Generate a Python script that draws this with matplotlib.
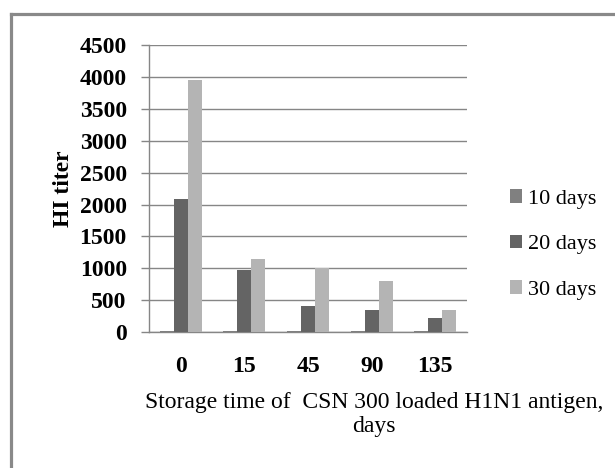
import numpy as np
import matplotlib
matplotlib.use('Agg')
import matplotlib.pyplot as plt
from matplotlib.lines import Line2D

plt.rcParams['font.family'] = ['Liberation Serif', 'DejaVu Serif']

storage_days = ['0', '15', '45', '90', '135']
series_names = ['10 days', '20 days', '30 days']
titer_10d = [15, 15, 15, 15, 15]
titer_20d = [2080, 975, 410, 350, 225]
titer_30d = [3960, 1150, 1005, 805, 350]
series_values = [titer_10d, titer_20d, titer_30d]
series_colors = ['#808080', '#646464', '#b4b4b4']

fig = plt.figure(figsize=(6.15, 4.68), dpi=100)
ax = fig.add_axes([0.2423, 0.2906, 0.5171, 0.6126])

x = np.arange(len(storage_days))
w = 0.22
bars = []
for i, (name, vals, col) in enumerate(zip(series_names, series_values, series_colors)):
    b = ax.bar(x + (i - 1) * w, vals, width=w, color=col, label=name, zorder=3)
    bars.append(b)

ax.set_xlim(-0.5, len(storage_days) - 0.5)
ax.set_ylim(0, 4500)
ax.set_yticks(np.arange(0, 4501, 500))
ax.set_xticks(x)
ax.set_xticklabels(storage_days)

ax.grid(axis='y', color='#868686', linewidth=1.0, zorder=0)
for s in ['top', 'right']:
    ax.spines[s].set_visible(False)
for s in ['left', 'bottom']:
    ax.spines[s].set_color('#868686')
    ax.spines[s].set_linewidth(1.0)

ax.tick_params(axis='y', length=6, width=1, color='#868686', pad=10, labelsize=17)
ax.tick_params(axis='x', length=0, pad=17, labelsize=17)
for lab in ax.get_xticklabels() + ax.get_yticklabels():
    lab.set_fontweight('bold')

ax.set_ylabel('HI titer', fontsize=17, fontweight='bold')
ax.yaxis.set_label_coords(-0.235, 0.5)
ax.set_xlabel('Storage time of  CSN 300 loaded H1N1 antigen,\ndays', fontsize=17,
              linespacing=1.15)
ax.xaxis.set_label_coords(0.708, -0.21)

fig.legend(handles=bars, labels=series_names, loc='center left',
           bbox_to_anchor=(0.829, 0.4776), frameon=False, fontsize=16,
           borderpad=0, borderaxespad=0, handlelength=0.55, handleheight=0.55,
           handletextpad=0.25, labelspacing=1.17)

# outer chart-area border (left and top only)
fig.add_artist(Line2D([0.0171, 0.0171], [0.0, 0.970], transform=fig.transFigure,
                      color='#898989', linewidth=2.3))
fig.add_artist(Line2D([0.0171, 1.0], [0.970, 0.970], transform=fig.transFigure,
                      color='#898989', linewidth=2.3))

fig.savefig('out.png', dpi=100)
